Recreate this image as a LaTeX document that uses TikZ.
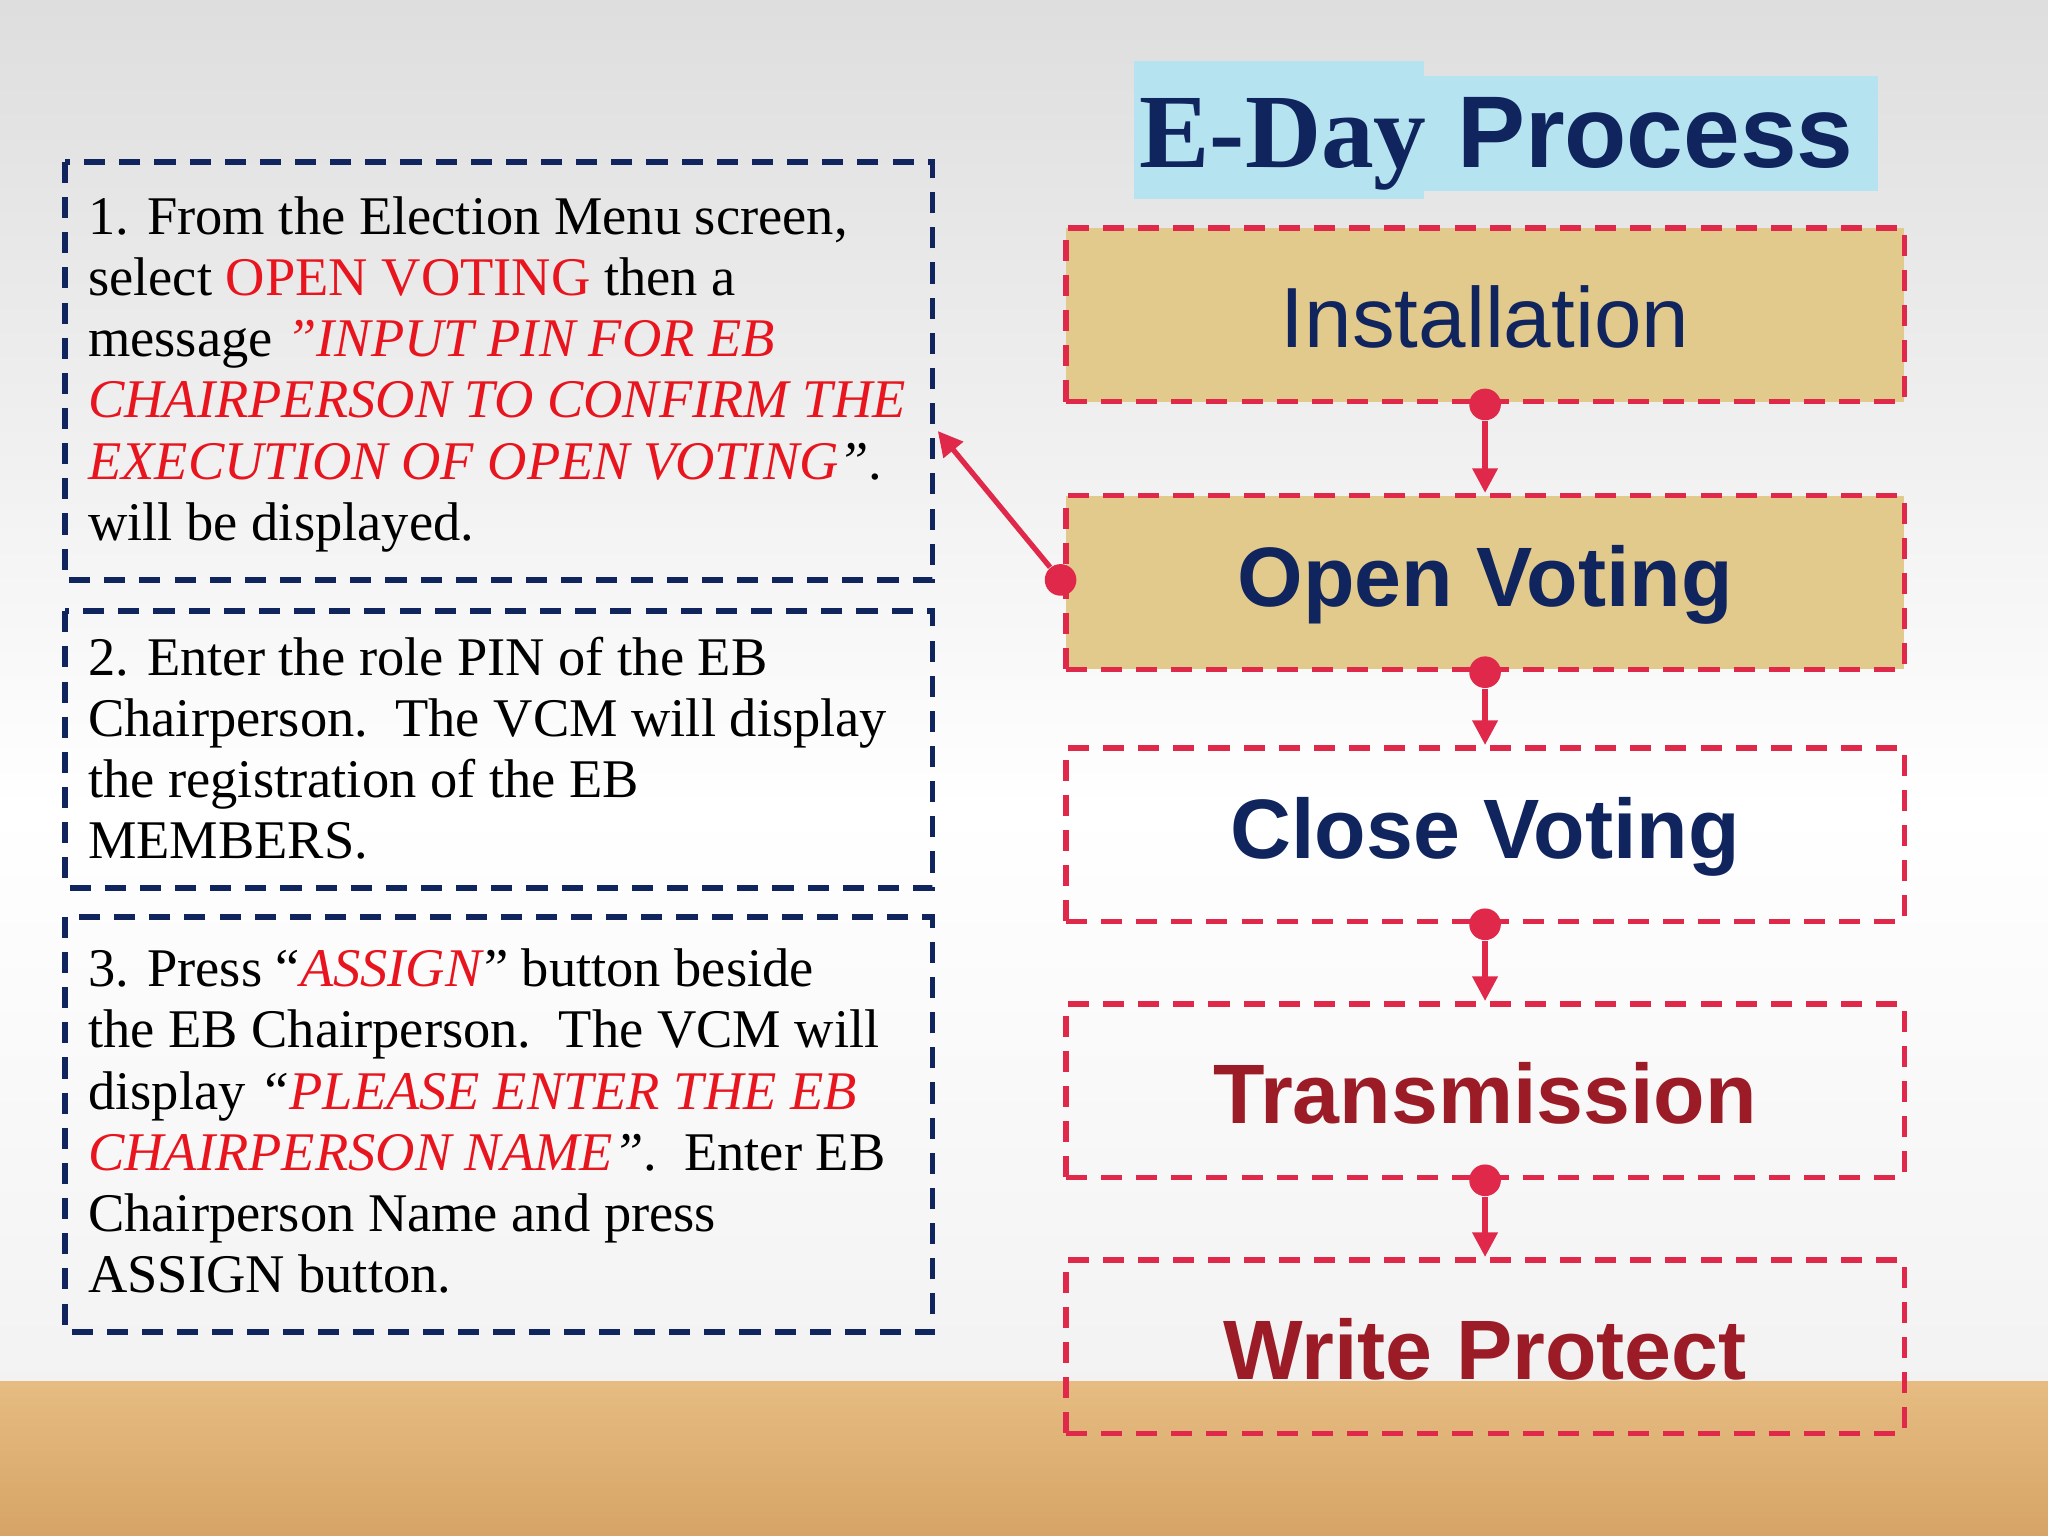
\documentclass[tikz,border=0pt]{standalone}
\usepackage{fontspec}
\setmainfont{Liberation Serif}
\setsansfont{Liberation Sans}
\usetikzlibrary{arrows.meta}
\definecolor{navy}{HTML}{10245E}
\definecolor{crim}{HTML}{E0284A}
\definecolor{dred}{HTML}{9B1C26}
\definecolor{tan}{HTML}{E2C98C}
\definecolor{floorA}{HTML}{E6BC82}
\definecolor{floorB}{HTML}{D6A465}
\definecolor{cyanb}{HTML}{B5E4F0}
\definecolor{rtxt}{HTML}{E8141E}
\newlength{\unitx}\setlength{\unitx}{0.01306cm}
\newlength{\unity}\setlength{\unity}{0.01306cm}
\tikzset{
 lbox/.style={draw=navy,line width=1.6pt,dash pattern=on 6pt off 4pt},
 rbox/.style={draw=crim,line width=1.6pt,dash pattern=on 6pt off 4pt,minimum width=642\unitx,minimum height=133\unity},
 ltext/.style={anchor=north west,align=left,font=\fontsize{15.5}{17.4}\selectfont,inner sep=0pt},
 big/.style={font=\sffamily\bfseries\fontsize{24}{28}\selectfont},
 conn/.style={draw=crim,line width=1.5pt,-{Triangle[length=7pt,width=7pt]}},
 dot/.style={circle,fill=crim,inner sep=0pt,minimum size=9pt}
}
\newcommand{\rr}[1]{\textcolor{rtxt}{#1}}
\begin{document}
\begin{tikzpicture}[x=0.01306cm,y=-0.01306cm]
\useasboundingbox (0,0) rectangle (1568,1176);
\shade[top color=black!13,bottom color=white] (0,0) rectangle (1568,620);
\shade[top color=white,bottom color=black!5] (0,620) rectangle (1568,1058);
\shade[top color=floorA,bottom color=floorB] (0,1058) rectangle (1568,1176);
% title
\fill[cyanb] (868,47) rectangle (1090,152);
\fill[cyanb] (1090,58) rectangle (1438,146);
\node[anchor=base west,text=navy,inner sep=0pt,font=\bfseries\fontsize{30}{34}\selectfont] (t1) at (872,128) {E-Day};
\node[anchor=base west,text=navy,inner sep=0pt,font=\sffamily\bfseries\fontsize{29}{32}\selectfont] (t2) at (1115,128) {Process};
% left boxes
\draw[lbox] (50,124) rectangle (714,444);
\draw[lbox] (50,468) rectangle (714,680);
\draw[lbox] (50,702) rectangle (714,1020);
\node[ltext] (s1) at (67,150) {1. From the Election Menu screen,\\ select \rr{OPEN VOTING} then a\\ message \rr{\textit{"INPUT PIN FOR EB}}\\ \rr{\textit{CHAIRPERSON TO CONFIRM THE}}\\ \rr{\textit{EXECUTION OF OPEN VOTING}}\textit{"}.\\ will be displayed.};
\node[ltext] (s2) at (67,487) {2. Enter the role PIN of the EB\\ Chairperson.\ \ The VCM will display\\ the registration of the EB\\ MEMBERS.};
\node[ltext] (s3) at (67,726) {3. Press “\rr{\textit{ASSIGN}}” button beside\\ the EB Chairperson.\ \ The VCM will\\ display \textit{“}\rr{\textit{PLEASE ENTER THE EB}}\\ \rr{\textit{CHAIRPERSON NAME}}\textit{”}.\ \ Enter EB\\ Chairperson Name and press\\ ASSIGN button.};
% right boxes
\node[rbox,fill=tan] (b1) at (1137,241) {};
\node[rbox,fill=tan] (b2) at (1137,446) {};
\node[rbox] (b3) at (1137,639) {};
\node[rbox] (b4) at (1137,835) {};
\node[rbox] (b5) at (1137,1031) {};
\node[text=navy,font=\sffamily\fontsize{24.3}{28}\selectfont] at (1137,243) {Installation};
\node[text=navy,big] at (1137,448) {Open Voting};
\node[text=navy,big] at (1137,641) {Close Voting};
\node[text=dred,big] at (1137,837) {Transmission};
\node[text=dred,big] at (1137,1033) {Write Protect};
% connectors
\foreach \a/\b in {b1/b2,b2/b3,b3/b4,b4/b5}{
 \node[dot] (d\a) at (\a.south) {};
 \draw[conn] (d\a) -- (\b.north);
}
\node[dot] (dl) at (812,444) {};
\coordinate (al) at (718,330);
\draw[conn] (dl) -- (al);
\end{tikzpicture}
\end{document}
